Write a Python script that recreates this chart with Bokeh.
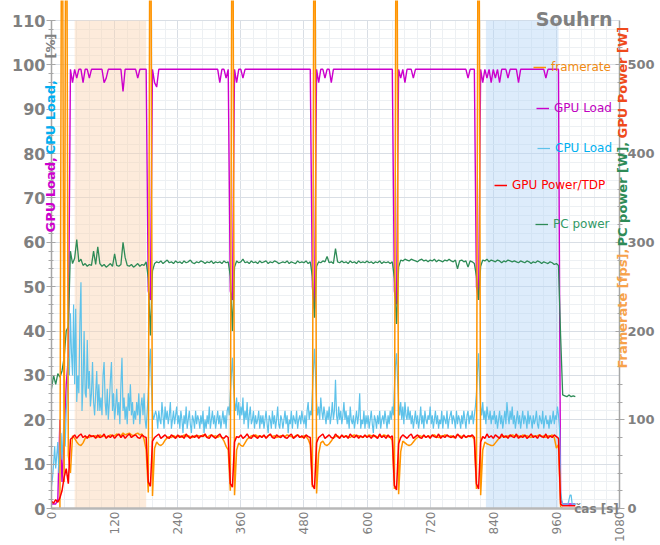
import math
from bokeh.plotting import figure
from bokeh.models import (Range1d, LinearAxis, SingleIntervalTicker, BoxAnnotation,
                          Label, Legend, LegendItem, Grid)
from bokeh.embed import file_html
from bokeh.resources import INLINE

# ---------------- data ----------------
STEP_MAIN_S = 4   # sampling step of framerate / GPU load / GPU power / PC power
STEP_CPU_S = 2    # sampling step of CPU load

framerate_fps = [
    0, 0, 0, 0, 0, 900, 30, 900, 60, 40,
    82, 79, 75, 72, 71, 74, 79, 81, 80, 82,
    81, 82, 80, 83, 81, 82, 80, 81, 83, 82,
    82, 84, 83, 82, 85, 83, 84, 85, 83, 82,
    84, 85, 83, 84, 78, 66, 18, 900, 14, 68,
    75, 72, 71, 73, 77, 80, 81, 80, 82, 81,
    81, 82, 80, 83, 81, 82, 81, 80, 82, 81,
    82, 81, 83, 82, 80, 82, 83, 81, 82, 80,
    82, 80, 76, 70, 66, 20, 900, 15, 66, 74,
    71, 70, 74, 78, 80, 82, 81, 83, 81, 82,
    81, 82, 80, 82, 83, 81, 82, 80, 81, 82,
    82, 81, 83, 82, 81, 80, 82, 83, 81, 80,
    82, 81, 78, 72, 24, 900, 17, 62, 74, 76,
    72, 71, 73, 76, 80, 81, 82, 80, 82, 81,
    82, 81, 80, 82, 83, 81, 82, 81, 80, 82,
    81, 83, 82, 81, 82, 80, 82, 81, 83, 82,
    81, 80, 77, 22, 900, 16, 64, 76, 74, 72,
    71, 72, 75, 78, 80, 82, 81, 82, 80, 82,
    81, 82, 83, 81, 80, 82, 81, 83, 82, 81,
    82, 80, 81, 83, 82, 81, 82, 80, 81, 82,
    81, 78, 22, 900, 15, 66, 75, 73, 72, 71,
    71, 74, 77, 80, 81, 82, 80, 82, 81, 83,
    82, 81, 82, 80, 83, 81, 82, 81, 80, 82,
    81, 82, 83, 81, 82, 80, 82, 81, 83, 80,
    68, 72, 2, 0, 0, 0, 0, 0, 0, 0,
]

gpu_load_pct = [
    1, 1, 1, 2, 20, 6, 16, 28, 34, 99,
    96, 99, 97, 99, 99, 96, 99, 99, 97, 99,
    99, 99, 99, 99, 99, 96, 97, 99, 99, 99,
    99, 99, 99, 99, 94, 99, 99, 99, 99, 99,
    99, 97, 99, 99, 99, 99, 49, 47, 99, 96,
    95, 99, 99, 99, 99, 99, 99, 99, 99, 99,
    99, 99, 99, 99, 99, 99, 99, 99, 99, 99,
    99, 99, 99, 99, 99, 99, 99, 99, 99, 99,
    96, 99, 99, 97, 99, 49, 47, 99, 96, 99,
    99, 97, 99, 99, 99, 99, 99, 99, 99, 99,
    99, 99, 99, 99, 99, 99, 99, 99, 99, 99,
    99, 99, 99, 99, 99, 99, 99, 99, 99, 99,
    99, 99, 99, 99, 50, 45, 99, 96, 99, 99,
    97, 99, 99, 96, 99, 99, 99, 99, 99, 99,
    99, 99, 99, 99, 99, 99, 99, 99, 99, 99,
    99, 99, 99, 99, 99, 99, 99, 99, 99, 99,
    99, 99, 99, 49, 46, 99, 97, 99, 96, 99,
    99, 99, 97, 99, 99, 99, 99, 99, 99, 99,
    99, 99, 99, 99, 99, 99, 99, 99, 99, 99,
    99, 99, 99, 99, 99, 99, 99, 99, 97, 99,
    99, 99, 50, 47, 99, 96, 99, 97, 99, 96,
    99, 97, 99, 96, 99, 99, 99, 97, 99, 99,
    99, 99, 96, 99, 99, 99, 99, 99, 99, 99,
    99, 99, 99, 99, 99, 97, 99, 99, 99, 99,
    99, 99, 2, 1, 1, 1, 1, 1, 1, 1,
]

gpu_power_w = [
    8, 6, 10, 7, 12, 20, 35, 45, 28, 78,
    80, 83, 79, 82, 84, 80, 82, 79, 83, 81,
    82, 79, 83, 80, 81, 84, 79, 82, 80, 83,
    79, 82, 84, 80, 83, 79, 82, 84, 80, 82,
    83, 80, 79, 83, 81, 80, 30, 25, 76, 80,
    82, 84, 79, 81, 83, 80, 79, 83, 81, 79,
    83, 80, 82, 79, 84, 81, 79, 82, 80, 83,
    79, 82, 81, 84, 80, 79, 83, 81, 79, 82,
    84, 80, 79, 82, 80, 28, 24, 75, 81, 80,
    83, 79, 81, 84, 80, 79, 83, 81, 79, 82,
    80, 83, 79, 82, 84, 80, 79, 83, 81, 80,
    83, 80, 79, 82, 84, 79, 81, 83, 80, 82,
    79, 83, 81, 80, 27, 22, 74, 80, 82, 84,
    79, 81, 83, 80, 79, 84, 81, 79, 83, 80,
    82, 79, 84, 81, 80, 83, 79, 82, 80, 83,
    80, 82, 79, 83, 81, 79, 84, 80, 82, 79,
    83, 80, 82, 26, 21, 73, 80, 83, 81, 79,
    82, 84, 79, 81, 83, 80, 79, 83, 80, 82,
    79, 83, 81, 80, 84, 79, 82, 80, 83, 81,
    80, 82, 79, 84, 81, 79, 83, 80, 82, 81,
    83, 80, 28, 22, 75, 81, 79, 84, 80, 82,
    79, 83, 81, 79, 84, 80, 82, 79, 83, 81,
    80, 84, 79, 82, 80, 83, 79, 81, 84, 80,
    82, 79, 83, 81, 80, 84, 79, 82, 80, 83,
    81, 79, 5, 3, 3, 3, 3, 3, 3, 3,
]

pc_power_w = [
    135, 150, 140, 152, 148, 155, 170, 200, 205, 290,
    276, 282, 303, 278, 281, 274, 276, 273, 275, 274,
    290, 275, 295, 276, 273, 275, 272, 274, 276, 273,
    287, 274, 273, 275, 300, 283, 274, 273, 275, 272,
    274, 276, 273, 275, 274, 278, 260, 195, 268, 276,
    278, 277, 279, 276, 278, 280, 277, 278, 276, 279,
    277, 278, 276, 279, 277, 278, 280, 277, 276, 278,
    277, 279, 278, 276, 278, 277, 279, 276, 278, 277,
    278, 276, 279, 277, 278, 262, 200, 272, 279, 277,
    278, 281, 277, 278, 276, 279, 277, 278, 276, 279,
    277, 278, 279, 276, 278, 277, 279, 278, 276, 277,
    278, 277, 279, 276, 278, 277, 276, 279, 277, 278,
    277, 279, 276, 278, 262, 215, 273, 278, 277, 279,
    278, 284, 277, 278, 276, 293, 278, 277, 279, 277,
    278, 276, 279, 277, 278, 276, 279, 277, 278, 277,
    279, 277, 278, 276, 278, 277, 279, 276, 278, 277,
    278, 276, 278, 260, 208, 272, 280, 279, 281, 280,
    279, 281, 280, 279, 278, 280, 281, 279, 280, 278,
    280, 279, 281, 278, 280, 279, 278, 280, 279, 281,
    279, 278, 280, 270, 279, 280, 278, 279, 272, 279,
    278, 276, 262, 235, 273, 280, 279, 281, 278, 280,
    279, 278, 280, 279, 277, 279, 278, 280, 279, 278,
    279, 278, 277, 279, 278, 277, 279, 278, 276, 278,
    277, 279, 278, 276, 278, 277, 276, 278, 277, 275,
    276, 274, 195, 128, 127, 126, 128, 126, 127, 126,
]

cpu_load_pct = [
    5, 7, 10, 14, 9, 12, 15, 8, 13, 17, 11, 16, 20, 14, 22, 26, 34, 30, 44, 35,
    30, 46, 28, 45, 24, 30, 26, 42, 51, 22, 28, 40, 26, 25, 38, 27, 31, 23, 26, 33,
    24, 21, 26, 31, 22, 28, 22, 25, 21, 30, 33, 24, 21, 27, 20, 24, 29, 33, 22, 26,
    20, 23, 27, 21, 24, 19, 28, 34, 22, 25, 20, 23, 19, 26, 22, 28, 21, 24, 19, 22,
    20, 24, 21, 26, 19, 23, 25, 21, 26, 20, 18, 22, 26, 32, 36, 28, 22, 20, 21, 22,
    21, 18, 22, 20, 19, 24, 21, 18, 23, 20, 22, 19, 21, 24, 18, 20, 22, 19, 21, 23,
    19, 21, 18, 22, 20, 17, 21, 19, 23, 18, 20, 22, 19, 17, 21, 20, 18, 22, 19, 21,
    20, 18, 21, 19, 22, 17, 20, 18, 21, 19, 23, 18, 20, 22, 19, 21, 18, 20, 22, 19,
    21, 18, 20, 22, 19, 21, 18, 22, 23, 21, 26, 30, 34, 28, 24, 22, 25, 21, 24, 20,
    23, 21, 25, 19, 22, 20, 24, 18, 21, 23, 19, 20, 22, 18, 21, 19, 20, 22, 18, 21,
    19, 21, 18, 20, 22, 19, 17, 21, 20, 18, 22, 19, 21, 18, 20, 23, 19, 18, 21, 20,
    18, 20, 22, 19, 21, 17, 20, 19, 22, 18, 21, 20, 19, 22, 18, 20, 21, 19, 22, 20,
    19, 21, 18, 22, 24, 20, 22, 21, 26, 31, 36, 30, 24, 21, 23, 20, 25, 22, 20, 23,
    21, 19, 22, 20, 23, 19, 21, 24, 20, 22, 29, 21, 19, 23, 20, 22, 19, 21, 24, 20,
    22, 19, 21, 18, 23, 20, 19, 21, 18, 20, 22, 19, 21, 26, 18, 20, 19, 22, 18, 21,
    19, 21, 18, 20, 22, 19, 17, 21, 20, 18, 21, 19, 22, 18, 20, 21, 19, 22, 20, 18,
    21, 19, 22, 20, 23, 21, 27, 32, 35, 29, 24, 21, 24, 20, 23, 19, 24, 21, 20, 23,
    20, 22, 19, 21, 18, 20, 22, 19, 21, 18, 20, 23, 19, 21, 18, 22, 20, 19, 21, 20,
    23, 19, 21, 18, 20, 22, 19, 21, 18, 20, 19, 22, 18, 21, 20, 19, 22, 18, 20, 21,
    22, 19, 21, 20, 18, 22, 19, 21, 20, 18, 21, 19, 22, 20, 18, 21, 22, 19, 21, 20,
    22, 19, 21, 23, 26, 31, 35, 28, 23, 21, 24, 20, 22, 19, 23, 21, 20, 22, 19, 21,
    20, 22, 19, 21, 18, 20, 22, 19, 21, 18, 20, 22, 19, 24, 21, 19, 22, 20, 23, 19,
    21, 18, 20, 22, 19, 21, 18, 20, 22, 19, 21, 20, 18, 22, 19, 21, 20, 18, 21, 19,
    20, 22, 19, 18, 21, 20, 19, 22, 18, 20, 21, 19, 20, 18, 21, 19, 20, 22, 19, 21,
    20, 23, 21, 18, 4, 2, 1, 1, 1, 1, 1, 1, 2, 3, 3, 1, 1, 1, 1, 1,
]

run1_band_s = (44, 180)      # highlighted (orange) interval
run6_band_s = (826, 964)     # highlighted (blue) interval

X_MAX_S = 1080
LEFT_MAX = 110
RIGHT_MAX = 550
x_tick_step_s = 120
left_tick_step = 10
right_tick_step = 100

legend_labels = ["framerate", "GPU Load", "CPU Load", "GPU Power/TDP", "PC power"]

# ---------------- layout (pixel geometry of the data area on the canvas) ----------------
W, H = 660, 545
FL, FR, FT, FB = 51, 619, 20, 508
px_x = (FR - FL) / X_MAX_S
px_y = (FB - FT) / LEFT_MAX

t_main = [i * STEP_MAIN_S for i in range(len(framerate_fps))]
t_cpu = [i * STEP_CPU_S for i in range(len(cpu_load_pct))]

# the plotting frame covers the whole canvas; axes are pinned to the data area
p = figure(width=W, height=H, output_backend="svg", toolbar_location=None,
           x_range=Range1d(-FL / px_x, X_MAX_S + (W - FR) / px_x),
           y_range=Range1d(-(H - FB) / px_y, LEFT_MAX + FT / px_y),
           min_border=0, min_border_left=0, min_border_right=0,
           min_border_top=0, min_border_bottom=0,
           background_fill_color="white", border_fill_color="white",
           outline_line_color=None)
ratio = RIGHT_MAX / LEFT_MAX
p.extra_y_ranges = {"right": Range1d(p.y_range.start * ratio, p.y_range.end * ratio)}

GRAY = "#808080"
FONT = "DejaVu Sans"

# axes
xa = p.xaxis[0]
ya = p.yaxis[0]
xa.ticker = SingleIntervalTicker(interval=x_tick_step_s, num_minor_ticks=5)
ya.ticker = SingleIntervalTicker(interval=left_tick_step, num_minor_ticks=5)
raxis = LinearAxis(y_range_name="right",
                   ticker=SingleIntervalTicker(interval=right_tick_step, num_minor_ticks=5))
p.add_layout(raxis, "right")

xa.fixed_location = 0
xa.bounds = (0, X_MAX_S)
ya.fixed_location = 0
ya.bounds = (0, LEFT_MAX)
raxis.fixed_location = X_MAX_S
raxis.bounds = (0, RIGHT_MAX)

for ax in (ya, raxis):
    ax.axis_line_color = "#a6a6a6"
    ax.axis_line_width = 1.5
    ax.major_tick_line_color = "#a6a6a6"
    ax.minor_tick_line_color = "#a6a6a6"
    ax.major_tick_in = 4
    ax.major_tick_out = 5
    ax.minor_tick_in = 2
    ax.minor_tick_out = 3
    ax.major_label_text_color = GRAY
    ax.major_label_text_font = FONT
    ax.major_label_text_font_style = "bold"
ya.major_label_text_font_size = "16px"
ya.major_label_standoff = 1
raxis.major_label_text_font_size = "13px"
raxis.major_label_standoff = 3

xa.axis_line_color = "#b8b8b8"
xa.axis_line_width = 2.5
xa.major_tick_line_color = None
xa.minor_tick_line_color = None
xa.major_tick_out = 0
xa.minor_tick_out = 0
xa.major_tick_in = 0
xa.minor_tick_in = 0
xa.major_label_orientation = math.pi / 2
xa.major_label_text_font = FONT
xa.major_label_text_font_size = "12px"
xa.major_label_text_color = GRAY
xa.major_label_standoff = 3

# grid limited to the data area
MAJOR_GRID, MINOR_GRID = "#d9dee5", "#edf0f3"
if "cross_bounds" in Grid.properties():
    for g, b, cb in ((p.xgrid[0], (0, X_MAX_S), (0, LEFT_MAX)),
                     (p.ygrid[0], (0, LEFT_MAX), (0, X_MAX_S))):
        g.bounds = b
        g.cross_bounds = cb
        g.grid_line_color = MAJOR_GRID
        g.minor_grid_line_color = MINOR_GRID
else:
    p.xgrid.visible = False
    p.ygrid.visible = False
    minor_step_x = x_tick_step_s // 5
    minor_step_y = left_tick_step // 5
    gx_minor = [v for v in range(0, X_MAX_S + 1, minor_step_x) if v % x_tick_step_s]
    gx_major = list(range(0, X_MAX_S + 1, x_tick_step_s))
    gy_minor = [v for v in range(0, LEFT_MAX + 1, minor_step_y) if v % left_tick_step]
    gy_major = list(range(0, LEFT_MAX + 1, left_tick_step))
    p.segment(x0=gx_minor, y0=0, x1=gx_minor, y1=LEFT_MAX, color=MINOR_GRID, line_width=1)
    p.segment(x0=0, y0=gy_minor, x1=X_MAX_S, y1=gy_minor, color=MINOR_GRID, line_width=1)
    p.segment(x0=gx_major, y0=0, x1=gx_major, y1=LEFT_MAX, color=MAJOR_GRID, line_width=1)
    p.segment(x0=0, y0=gy_major, x1=X_MAX_S, y1=gy_major, color=MAJOR_GRID, line_width=1)

# highlighted intervals
p.add_layout(BoxAnnotation(left=run1_band_s[0], right=run1_band_s[1], bottom=0, top=LEFT_MAX,
                           fill_color="#fbd3b0", fill_alpha=0.45, line_color=None,
                           level="underlay"))
p.add_layout(BoxAnnotation(left=run6_band_s[0], right=run6_band_s[1], bottom=0, top=LEFT_MAX,
                           fill_color="#b3d4f6", fill_alpha=0.45, line_color=None,
                           level="underlay"))

# series
C_FPS, C_GPU, C_CPU, C_PWR, C_PC = "#ff9400", "#cc00cc", "#5ec2ea", "#ff0000", "#2e8b57"
r_gpu = p.line(t_main, gpu_load_pct, color=C_GPU, line_width=1.4)
r_cpu = p.line(t_cpu, cpu_load_pct, color=C_CPU, line_width=1.2)
r_pc = p.line(t_main, pc_power_w, color=C_PC, line_width=1.3, y_range_name="right")
r_fps = p.line(t_main, framerate_fps, color=C_FPS, line_width=1.5, y_range_name="right")
r_pwr = p.line(t_main, gpu_power_w, color=C_PWR, line_width=1.5, y_range_name="right")

# legends (one per item so each label keeps the series colour)
legend_specs = [
    (legend_labels[0], r_fps, "#f08a12", 67, 533),
    (legend_labels[1], r_gpu, "#c000c0", 108, 536),
    (legend_labels[2], r_cpu, "#00b0f0", 148, 537),
    (legend_labels[3], r_pwr, "#ff0000", 185, 494),
    (legend_labels[4], r_pc, "#339966", 224, 535),
]
for lab, rend, col, yc, xk in legend_specs:
    lg = Legend(items=[LegendItem(label=lab, renderers=[rend])],
                location=(xk, H - yc - 10),
                background_fill_alpha=0, border_line_alpha=0,
                padding=0, margin=0, spacing=0,
                glyph_width=13, glyph_height=20, label_height=20, label_standoff=5,
                label_text_color=col, label_text_font=FONT,
                label_text_font_size="12px")
    p.add_layout(lg)

# axis titles (multi-coloured, drawn as rotated labels over the axis lines)
def vlabel(text, x_page, y_page_start, color):
    p.add_layout(Label(x=x_page, y=H - y_page_start, x_units="screen", y_units="screen",
                       text=text, angle=math.pi / 2, text_align="left", text_baseline="middle",
                       text_color=color, text_font=FONT, text_font_size="13px",
                       text_font_style="bold"))

vlabel("GPU Load,", 50, 232, "#cc00cc")
vlabel("CPU Load,", 50, 154, "#00aef0")
vlabel("[%]", 50, 58, GRAY)

vlabel("Framerate [fps],", 622, 368, "#f7a24b")
vlabel("PC power [W],", 622, 246, "#2e8b57")
vlabel("GPU Power [W]", 622, 138, "#ef4a1c")

p.add_layout(Label(x=612, y=H - 18, x_units="screen", y_units="screen",
                   text="Souhrn", text_align="right", text_baseline="middle",
                   text_color=GRAY, text_font=FONT, text_font_size="19px",
                   text_font_style="bold"))
p.add_layout(Label(x=596, y=H - 508, x_units="screen", y_units="screen",
                   text="čas [s]", text_align="center", text_baseline="middle",
                   text_color=GRAY, text_font=FONT, text_font_size="12px",
                   text_font_style="bold"))

open("out.html", "w").write(file_html(p, INLINE))
